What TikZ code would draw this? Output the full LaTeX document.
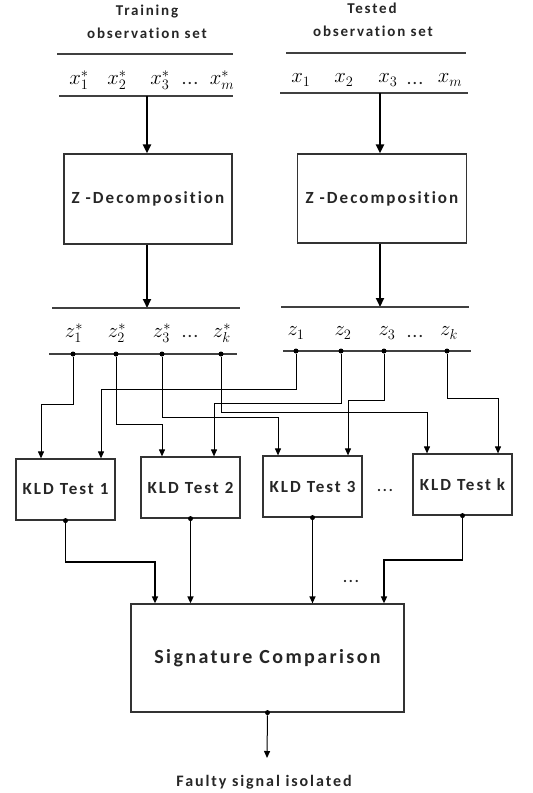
\documentclass[tikz,border=0pt]{standalone}
\usepackage{fontspec}
\setsansfont{Carlito}
\newfontfamily\spacedfont[LetterSpace=12,Ligatures=NoCommon]{Carlito}
\usetikzlibrary{arrows.meta}

\begin{document}
\begin{tikzpicture}[x=1pt,y=-1pt,>={Triangle[length=7pt,width=6pt]}]
  \tikzstyle{block}=[draw=black!80,line width=1.2pt,inner sep=0pt]
  \tikzstyle{title}=[font=\spacedfont\bfseries\fontsize{15}{17}\selectfont,text=black!85]
  \tikzstyle{boxtext}=[font=\spacedfont\bfseries\fontsize{17}{19}\selectfont,text=black!85]
  \tikzstyle{sym}=[font=\fontsize{22}{24}\selectfont]
  \tikzstyle{bar}=[draw=black!75,line width=1.3pt]
  \tikzstyle{link}=[->,line width=1pt]
  \tikzstyle{main}=[-{Triangle[length=9pt,width=8pt]},line width=2.2pt]
  \tikzstyle{dot}=[circle,fill=black,inner sep=0pt,minimum size=5pt]

  \useasboundingbox (0,0) rectangle (533,793);

  % headings
  \node[title] (trainA) at (147,12) {Training};
  \node[title] (trainB) at (147,33) {observation set};
  \node[title] (testA)  at (372,8)  {Tested};
  \node[title] (testB)  at (373,31) {observation set};

  % observation rows
  \draw[bar] (57,54) -- (233,54)  (59,96) -- (233,96);
  \draw[bar] (286,53) -- (466,53) (280,93) -- (468,93);
  \node[sym] (xs1) at (79,80)  {$x_1^*$};
  \node[sym] (xs2) at (117,80) {$x_2^*$};
  \node[sym] (xs3) at (160,80) {$x_3^*$};
  \node[title] (xsd) at (190,83) {...};
  \node[sym] (xsm) at (222,80) {$x_m^*$};
  \node[sym] (x1)  at (301,80) {$x_1$};
  \node[sym] (x2)  at (344,80) {$x_2$};
  \node[sym] (x3)  at (388,80) {$x_3$};
  \node[title] (xd)  at (415,83) {...};
  \node[sym] (xm)  at (450,80) {$x_m$};
  \coordinate (xbl) at (147,96);
  \coordinate (xbr) at (380,93);

  % decomposition blocks
  \node[block,boxtext,minimum width=168pt,minimum height=90pt] (zdl) at (148,199) {Z -Decomposition};
  \node[block,boxtext,minimum width=169pt,minimum height=89pt] (zdr) at (382,198.5) {Z -Decomposition};

  \draw[main] (xbl) -- (xbl |- zdl.north);
  \draw[main] (xbr) -- (xbr |- zdr.north);

  % decomposed rows
  \coordinate (zbl) at (147,308);
  \coordinate (zbr) at (380,307);
  \draw[main] (zdl.south -| zbl) -- (zbl);
  \draw[main] (zdr.south -| zbr) -- (zbr);
  \draw[bar] (52,308) -- (240,308)  (49,354) -- (237,354);
  \draw[bar] (281,307) -- (469,307) (283,351) -- (471,351);
  \node[sym] (lzs1) at (74,333)  {$z_1^*$};
  \node[sym] (lzs2) at (117,333) {$z_2^*$};
  \node[sym] (lzs3) at (162,333) {$z_3^*$};
  \node[title] (lzsd) at (190,336) {...};
  \node[sym] (lzsk) at (222,333) {$z_k^*$};
  \node[sym] (lz1)  at (296,333) {$z_1$};
  \node[sym] (lz2)  at (343,333) {$z_2$};
  \node[sym] (lz3)  at (387,333) {$z_3$};
  \node[title] (lzd)  at (415,336) {...};
  \node[sym] (lzk)  at (449,333) {$z_k$};

  \node[dot] (zs1) at (73,354)  {};
  \node[dot] (zs2) at (116,354) {};
  \node[dot] (zs3) at (162,354) {};
  \node[dot] (zsk) at (221,354) {};
  \node[dot] (z1)  at (296,351) {};
  \node[dot] (z2)  at (341,351) {};
  \node[dot] (z3)  at (384,351) {};
  \node[dot] (zk)  at (447,351) {};

  % KLD tests
  \node[block,boxtext,minimum width=99pt,minimum height=61pt] (k1) at (65.5,489.5)  {KLD Test 1};
  \node[block,boxtext,minimum width=99pt,minimum height=61pt] (k2) at (190.5,487.5) {KLD Test 2};
  \node[block,boxtext,minimum width=99pt,minimum height=61pt] (k3) at (312.5,486.5) {KLD Test 3};
  \node[block,boxtext,minimum width=99pt,minimum height=61pt] (kk) at (462.5,484.5) {KLD Test k};
  \node[title] (kdots) at (385,490) {...};

  \coordinate (k1a) at ([xshift=-24.5pt]k1.north);
  \coordinate (k1b) at ([xshift=35.5pt]k1.north);
  \coordinate (k2a) at ([xshift=-28.5pt]k2.north);
  \coordinate (k2b) at ([xshift=23.5pt]k2.north);
  \coordinate (k3a) at ([xshift=-34.5pt]k3.north);
  \coordinate (k3b) at ([xshift=35.5pt]k3.north);
  \coordinate (kka) at ([xshift=-35.5pt]kk.north);
  \coordinate (kkb) at ([xshift=35.5pt]kk.north);

  \draw[link] (zs1) -- (zs1 |- 0,404) -| (k1a);
  \draw[link] (z1)  -- (z1 |- 0,389)  -| (k1b);
  \draw[link] (zs2) -- (zs2 |- 0,424) -| (k2a);
  \draw[link] (z2)  -- (z2 |- 0,403)  -| (k2b);
  \draw[link] (zs3) -- (zs3 |- 0,417) -| (k3a);
  \draw[link] (z3)  -- (z3 |- 0,400)  -| (k3b);
  \draw[link] (zsk) -- (zsk |- 0,412) -| (kka);
  \draw[link] (zk)  -- (zk |- 0,398)  -| (kkb);

  % comparison
  \node[block,minimum width=273pt,minimum height=108pt,
        font=\spacedfont\bfseries\fontsize{20}{22}\selectfont,text=black!85] (sig) at (267.5,658) {Signature Comparison};
  \node[title] (sdots) at (351,581) {...};

  \coordinate (s1) at ([xshift=-112.5pt]sig.north);
  \coordinate (s2) at ([xshift=-77.5pt]sig.north);
  \coordinate (s3) at ([xshift=44.5pt]sig.north);
  \coordinate (sk) at ([xshift=116.5pt]sig.north);

  \node[dot] (o1) at (k1.south) {};
  \node[dot] (o2) at (k2.south) {};
  \node[dot] (o3) at (k3.south) {};
  \node[dot] (ok) at (kk.south) {};

  \draw[->,line width=1.5pt] (o1) -- (o1 |- 0,562) -| (s1);
  \draw[->,line width=1.5pt] (o2) -- (o2 |- s2);
  \draw[->,line width=1.2pt] (o3) -- (o3 |- s3);
  \draw[->,line width=1.5pt] (ok) -- (ok |- 0,560) -| (sk);

  % result
  \node[dot] (sout) at (sig.south) {};
  \coordinate (res) at (267,758);
  \draw[link] (sout) -- (res);
  \node[title,font=\spacedfont\bfseries\fontsize{16}{18}\selectfont] (fault) at (264,782) {Faulty signal isolated};
\end{tikzpicture}
\end{document}
